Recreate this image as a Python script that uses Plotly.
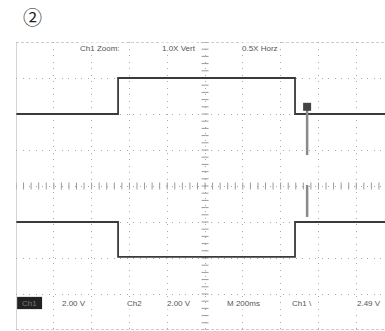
import plotly.graph_objects as go

# Oscilloscope traces (time in divisions, voltage in divisions)
ch1_t = [0.0, 2.70, 2.70, 7.38, 7.38, 9.76]
ch1_v = [2.00, 2.00, 3.00, 3.00, 2.00, 2.00]
ch2_t = [0.0, 2.70, 2.70, 7.38, 7.38, 9.76]
ch2_v = [-1.00, -1.00, -1.97, -1.97, -1.00, -1.00]
ch1_spike_t = [7.70, 7.70]
ch1_spike_v = [2.20, 0.86]
ch2_spike_t = [7.70, 7.70]
ch2_spike_v = [0.03, -0.86]

top_labels = ["Ch1 Zoom:", "1.0X Vert", "0.5X Horz"]
top_label_x = [1.64, 3.81, 5.93]
bottom_labels = ["2.00 V", "Ch2", "2.00 V", "M 200ms", "Ch1 \\", "2.49 V"]
bottom_label_x = [1.16, 2.88, 3.94, 5.53, 7.25, 8.97]

XMAX = 9.76
fig = go.Figure()

# center-line minor ticks (decoration)
tick_x = [i * 0.2 for i in range(0, 49)]
tick_y = [i * 0.2 for i in range(-20, 21)]
fig.add_trace(go.Scatter(x=tick_x, y=[0] * len(tick_x), mode="markers",
                         marker=dict(symbol="line-ns", size=5, line=dict(width=1, color="#9a9a9a")),
                         hoverinfo="skip", showlegend=False))
fig.add_trace(go.Scatter(x=[5] * len(tick_y), y=tick_y, mode="markers",
                         marker=dict(symbol="line-ew", size=5, line=dict(width=1, color="#9a9a9a")),
                         hoverinfo="skip", showlegend=False))

for t, v in [(ch1_t, ch1_v), (ch2_t, ch2_v)]:
    fig.add_trace(go.Scatter(x=t, y=v, mode="lines",
                             line=dict(color="#3a3a3a", width=1.8),
                             hoverinfo="skip", showlegend=False))

fig.add_trace(go.Scatter(x=ch1_spike_t, y=ch1_spike_v, mode="lines",
                         line=dict(color="#8a8a8a", width=2.5), showlegend=False, hoverinfo="skip"))
fig.add_trace(go.Scatter(x=ch1_spike_t[:1], y=ch1_spike_v[:1], mode="markers",
                         marker=dict(symbol="square", size=8, color="#444"), showlegend=False, hoverinfo="skip"))
fig.add_trace(go.Scatter(x=ch2_spike_t, y=ch2_spike_v, mode="lines",
                         line=dict(color="#8a8a8a", width=2.5), showlegend=False, hoverinfo="skip"))

axis_common = dict(showgrid=True, gridcolor="#aaaaaa", gridwidth=1, griddash="1px,5.5px",
                   zeroline=False, showticklabels=False, ticks="", showline=False)
fig.update_xaxes(range=[0, XMAX], dtick=1, tick0=0, **axis_common)
fig.update_yaxes(range=[-4, 4], dtick=1, tick0=0, **axis_common)

# frame
fig.add_shape(type="line", xref="x", yref="y", x0=0, x1=XMAX, y0=4, y1=4,
              line=dict(color="#999", width=1, dash="3px,2px"))
fig.add_shape(type="line", xref="x", yref="y", x0=0, x1=XMAX, y0=-4, y1=-4,
              line=dict(color="#999", width=1, dash="3px,2px"))
fig.add_shape(type="line", xref="x", yref="y", x0=0, x1=0, y0=-4, y1=4,
              line=dict(color="#aaa", width=1))

font = dict(family="Liberation Sans, Arial", size=8, color="#555")
for lab, x in zip(top_labels, top_label_x):
    fig.add_annotation(x=x, y=3.83, text=lab, showarrow=False, xanchor="left",
                       yanchor="middle", font=font, bgcolor="white")

fig.add_shape(type="rect", xref="x", yref="y", x0=0.03, x1=0.69, y0=-3.42, y1=-3.08,
              fillcolor="#222", line=dict(width=0))
fig.add_annotation(x=0.36, y=-3.25, text="Ch1", showarrow=False, xanchor="center",
                   yanchor="middle", font=dict(family="Liberation Sans, Arial", size=8, color="#777"))
for lab, x in zip(bottom_labels, bottom_label_x):
    fig.add_annotation(x=x, y=-3.25, text=lab, showarrow=False, xanchor="left",
                       yanchor="middle", font=font, bgcolor="white")

fig.add_annotation(xref="paper", yref="paper", x=0, y=1.0, xshift=16, yshift=26,
                   text="②", showarrow=False, xanchor="center", yanchor="middle",
                   font=dict(family="Noto Sans CJK JP, DejaVu Sans", size=19, color="#222"))

fig.update_layout(width=385, height=331, margin=dict(l=16, r=0, t=42, b=1),
                  paper_bgcolor="white", plot_bgcolor="white")
# remove the page's default 8px body margin so the figure fills the window
fig.write_html("out.html", config={"displayModeBar": False},
               post_script="document.body.style.margin='0';")
